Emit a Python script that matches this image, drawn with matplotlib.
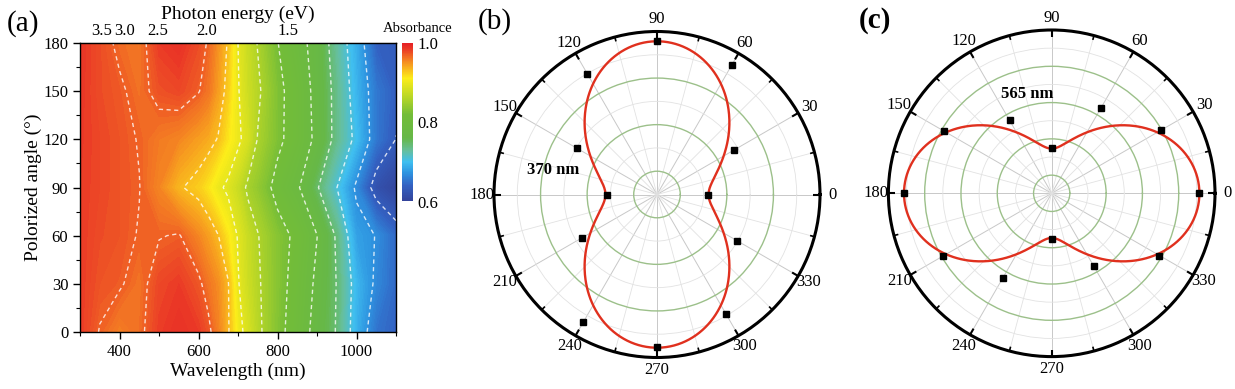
import numpy as np
import matplotlib
matplotlib.use("Agg")
import matplotlib.pyplot as plt
from matplotlib.colors import LinearSegmentedColormap

plt.rcParams['font.family'] = ['Liberation Serif', 'DejaVu Serif']
plt.rcParams['mathtext.fontset'] = 'stix'

# ---------------- data: panel (a) ----------------
wavelength = [300, 350, 400, 450, 500, 550, 600, 625, 650, 675, 700, 725, 750,
              800, 850, 900, 950, 1000, 1050, 1100]
pol_angle = [0, 30, 60, 90, 120, 150, 180]
abs_0 = [0.985, 0.969, 0.958, 0.965, 0.984, 0.990, 0.985, 0.975, 0.957, 0.935, 0.905, 0.885, 0.865,
         0.830, 0.804, 0.770, 0.743, 0.691, 0.652, 0.640]
abs_30 = [0.985, 0.975, 0.972, 0.963, 0.980, 0.985, 0.974, 0.962, 0.952, 0.934, 0.897, 0.878, 0.862,
          0.832, 0.808, 0.776, 0.744, 0.695, 0.665, 0.645]
abs_60 = [0.985, 0.978, 0.975, 0.969, 0.969, 0.9715, 0.955, 0.945, 0.933, 0.915, 0.893, 0.875, 0.859,
          0.832, 0.813, 0.783, 0.741, 0.681, 0.669, 0.645]
abs_90 = [0.985, 0.980, 0.975, 0.9705, 0.955, 0.935, 0.925, 0.915, 0.900, 0.890, 0.875, 0.852, 0.840,
          0.810, 0.787, 0.748, 0.708, 0.665, 0.620, 0.605]
abs_120 = [0.986, 0.980, 0.975, 0.969, 0.960, 0.955, 0.945, 0.940, 0.931, 0.915, 0.900, 0.885, 0.856,
           0.827, 0.805, 0.775, 0.735, 0.700, 0.655, 0.632]
abs_150 = [0.987, 0.978, 0.973, 0.964, 0.976, 0.980, 0.971, 0.962, 0.945, 0.925, 0.897, 0.878, 0.863,
           0.828, 0.805, 0.772, 0.735, 0.693, 0.655, 0.638]
abs_180 = [0.988, 0.978, 0.966, 0.962, 0.985, 0.990, 0.978, 0.968, 0.950, 0.930, 0.895, 0.875, 0.856,
           0.821, 0.795, 0.770, 0.728, 0.6886, 0.640, 0.635]
contour_levels = [0.6325, 0.67, 0.7075, 0.745, 0.7825, 0.82, 0.8575, 0.895, 0.9325, 0.97]
x_ticks = [400, 600, 800, 1000]
y_ticks = [0, 30, 60, 90, 120, 150, 180]
energy_ticks = [3.5, 3.0, 2.5, 2.0, 1.5]
cbar_ticks = [0.6, 0.8, 1.0]

# ---------------- data: panels (b), (c) ----------------
polar_angles = [0, 30, 60, 90, 120, 150, 180, 210, 240, 270, 300, 330]
b_points = [1.09, 1.90, 3.20, 3.29, 3.00, 1.99, 1.07, 1.86, 3.16, 3.28, 2.97, 1.99]
b_fit_min, b_fit_max = 1.107, 3.29     # fit: r = min + (max-min) sin^2
c_points = [4.07, 3.47, 2.72, 1.26, 2.32, 3.44, 4.06, 3.46, 2.71, 1.26, 2.32, 3.43]
c_fit_min, c_fit_max = 1.23, 4.07      # fit: r = min + (max-min) cos^2

W, H = 1235, 389
fig = plt.figure(figsize=(W / 100, H / 100), dpi=100)

cmap = LinearSegmentedColormap.from_list('origin_rainbow', [
    (0.00, (0.20, 0.26, 0.60)),
    (0.10, (0.20, 0.38, 0.76)),
    (0.18, (0.18, 0.58, 0.88)),
    (0.25, (0.25, 0.75, 0.94)),
    (0.32, (0.40, 0.75, 0.62)),
    (0.40, (0.40, 0.72, 0.28)),
    (0.55, (0.45, 0.74, 0.22)),
    (0.66, (0.72, 0.84, 0.15)),
    (0.78, (0.99, 0.93, 0.10)),
    (0.86, (0.97, 0.64, 0.12)),
    (0.91, (0.95, 0.45, 0.14)),
    (0.96, (0.92, 0.24, 0.15)),
    (1.00, (0.90, 0.13, 0.15)),
])

def px_axes(x0, y0, x1, y1, **kw):
    return fig.add_axes([x0 / W, 1 - y1 / H, (x1 - x0) / W, (y1 - y0) / H], **kw)

# ---------------- panel (a) ----------------
ax = px_axes(80, 43, 396, 332)
Z = np.array([abs_0, abs_30, abs_60, abs_90, abs_120, abs_150, abs_180])
fill_levels = np.linspace(0.6, 1.0, 161)
cf = ax.contourf(wavelength, pol_angle, Z, levels=fill_levels, cmap=cmap, vmin=0.6, vmax=1.0, extend='both')
ax.contour(wavelength, pol_angle, Z, levels=contour_levels, colors=[(1, 1, 1, 0.8)],
           linewidths=1.0, linestyles=[(0, (3, 2.5))])
ax.set_xlim(300, 1100)
ax.set_ylim(0, 180)
ax.set_xticks(x_ticks)
ax.set_xticks([300, 500, 700, 900, 1100], minor=True)
ax.set_yticks(y_ticks)
ax.set_yticks(np.arange(15, 180, 30), minor=True)
ax.tick_params(which='major', direction='out', length=5, width=1, labelsize=12)
ax.tick_params(which='minor', direction='out', length=3, width=0.8)
ax.set_xlabel('Wavelength (nm)', fontsize=14, labelpad=2)
ax.set_ylabel('Polorized angle (°)', fontsize=14, labelpad=1)
for s in ax.spines.values():
    s.set_linewidth(1.0)
sec = ax.secondary_xaxis('top', functions=(lambda x: 1240.0 / x, lambda e: 1240.0 / e))
sec.set_xticks(energy_ticks)
sec.set_xticklabels(['%.1f' % e for e in energy_ticks])
sec.tick_params(length=0, labelsize=12, pad=3)
sec.set_xlabel('Photon energy (eV)', fontsize=14, labelpad=3)

cax = px_axes(401.5, 43.3, 413, 201.5)
sm = matplotlib.cm.ScalarMappable(norm=matplotlib.colors.Normalize(0.6, 1.0), cmap=cmap)
cb = fig.colorbar(sm, cax=cax, ticks=cbar_ticks)
cb.outline.set_visible(False)
cb.ax.set_yticklabels(['%.1f' % t for t in cbar_ticks])
cb.ax.tick_params(length=0, labelsize=12, pad=3)
fig.text(418 / W, 1 - 29 / H, 'Absorbance', ha='center', va='center', fontsize=10.5)

# ---------------- polar panels ----------------
def polar_panel(cx, cy, R, rmax, points, curve, label, lx, ly):
    pax = px_axes(cx - R, cy - R, cx + R, cy + R, projection='polar')
    th = np.deg2rad(polar_angles)
    pax.set_ylim(0, rmax)
    major_r = np.arange(0.5, rmax, 1.0)
    minor_r = np.arange(1.0, rmax, 1.0)
    pax.set_yticks(major_r)
    pax.set_yticks(minor_r, minor=True)
    pax.set_yticklabels([])
    pax.set_xticks(np.deg2rad(np.arange(0, 360, 30)))
    pax.set_xticklabels([str(a) for a in range(0, 360, 30)])
    pax.set_xticks(np.deg2rad(np.arange(15, 360, 30)), minor=True)
    pax.xaxis.grid(True, which='major', color='#c8c8c8', linewidth=0.7)
    pax.xaxis.grid(True, which='minor', color='#e2e2e2', linewidth=0.6)
    pax.yaxis.grid(True, which='major', color='#9cc08a', linewidth=1.0)
    pax.yaxis.grid(True, which='minor', color='#e2e2e2', linewidth=0.6)
    pax.tick_params(axis='x', which='both', length=0, labelsize=12, pad=2)
    pax.tick_params(axis='y', which='both', length=0)
    pax.spines['polar'].set_linewidth(2.2)
    pax.set_axisbelow(True)
    # inward tick marks on the outer circle
    for a in range(0, 360, 15):
        frac = 7.0 / R if a % 30 == 0 else 4.5 / R
        t = np.deg2rad(a)
        pax.plot([t, t], [rmax * (1 - frac), rmax], color='black',
                 linewidth=1.5 if a % 30 == 0 else 1.2, zorder=5, solid_capstyle='butt')
    tt = np.deg2rad(np.linspace(0, 360, 721))
    pax.plot(tt, curve(tt), color='#e0301e', linewidth=1.7, zorder=3)
    pax.plot(th, points, linestyle='none', marker='s', markersize=4.3,
             color='black', zorder=4, clip_on=False)
    pax.text(lx, ly, label, transform=pax.transAxes, ha='center', va='center',
             fontsize=12, fontweight='bold')
    pax.set_ylim(0, rmax)
    return pax

polar_panel(657, 194.5, 163, 3.5, b_points,
            lambda t: b_fit_min + (b_fit_max - b_fit_min) * np.sin(t) ** 2,
            '370 nm', 0.181, 0.575)
polar_panel(1051.7, 193.3, 163.3, 4.5, c_points,
            lambda t: c_fit_min + (c_fit_max - c_fit_min) * np.cos(t) ** 2,
            '565 nm', 0.424, 0.804)

# panel labels
fig.text(23 / W, 1 - 24 / H, '(a)', ha='center', va='center', fontsize=21)
fig.text(495 / W, 1 - 22 / H, '(b)', ha='center', va='center', fontsize=21)
fig.text(875 / W, 1 - 20 / H, '(c)', ha='center', va='center', fontsize=21, fontweight='bold')

fig.savefig('out.png', dpi=100)
